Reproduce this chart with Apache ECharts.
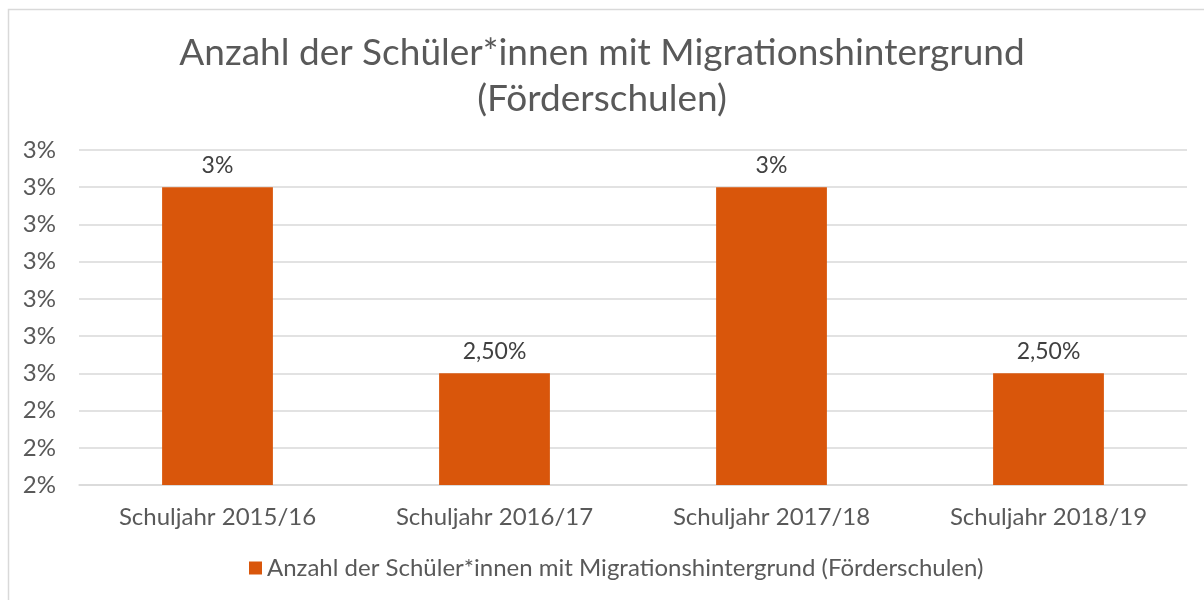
<!DOCTYPE html>
<html>
<head>
<meta charset="utf-8">
<script src="https://cdn.jsdelivr.net/npm/echarts@6/dist/echarts.min.js"></script>
<style>html,body{margin:0;padding:0;background:#fff}#c{width:1204px;height:600px}</style>
</head>
<body>
<div id="c"></div>
<script>
const categories = ['Schuljahr 2015/16', 'Schuljahr 2016/17', 'Schuljahr 2017/18', 'Schuljahr 2018/19'];
const values = [3.0, 2.5, 3.0, 2.5];
const valueLabels = ['3%', '2,50%', '3%', '2,50%'];
const yTickLabels = ['2%', '2%', '2%', '3%', '3%', '3%', '3%', '3%', '3%', '3%'];
const seriesName = 'Anzahl der Schüler*innen mit Migrationshintergrund (Förderschulen)';
const titleText = 'Anzahl der Schüler*innen mit Migrationshintergrund\n(Förderschulen)';

const chart = echarts.init(document.getElementById('c'));
const font = 'Lato, "Open Sans", sans-serif';
chart.setOption({
  animation: false,
  backgroundColor: '#fff',
  graphic: [{
    type: 'rect', left: 6, top: 7, silent: true,
    shape: { x: 0, y: 0, width: 1220, height: 620 },
    style: { fill: 'none', stroke: '#d9d9d9', lineWidth: 1.5 }
  }],
  title: {
    text: titleText, left: 'center', top: 25,
    textStyle: { fontFamily: font, fontSize: 37, fontWeight: 'normal', color: '#595959', lineHeight: 46 }
  },
  legend: {
    bottom: 15, left: 244, itemWidth: 13, itemHeight: 13, icon: 'rect', itemGap: 5,
    textStyle: { fontFamily: font, fontSize: 24, color: '#595959' },
    data: [seriesName]
  },
  grid: { left: 79, right: 17, top: 150, bottom: 115, containLabel: false },
  xAxis: {
    type: 'category', data: categories,
    axisLine: { show: true, lineStyle: { color: '#d9d9d9', width: 1.5 } },
    axisTick: { show: false },
    axisLabel: { fontFamily: font, fontSize: 24, color: '#595959', margin: 20 }
  },
  yAxis: {
    type: 'value', min: 2.2, max: 3.1, interval: 0.1,
    axisLine: { show: false }, axisTick: { show: false },
    splitLine: { lineStyle: { color: '#d9d9d9', width: 1.5 } },
    axisLabel: {
      fontFamily: font, fontSize: 24, color: '#595959', margin: 23,
      formatter: function (v) { const i = Math.round((v - 2.2) * 10); return yTickLabels[i] ?? ''; }
    }
  },
  series: [{
    name: seriesName, type: 'bar', data: values, barWidth: '40%',
    itemStyle: { color: '#d9560b' },
    label: {
      show: true, position: 'top', distance: 10,
      fontFamily: font, fontSize: 23, color: '#404040',
      formatter: function (p) { return valueLabels[p.dataIndex]; }
    }
  }]
});
</script>
</body>
</html>
